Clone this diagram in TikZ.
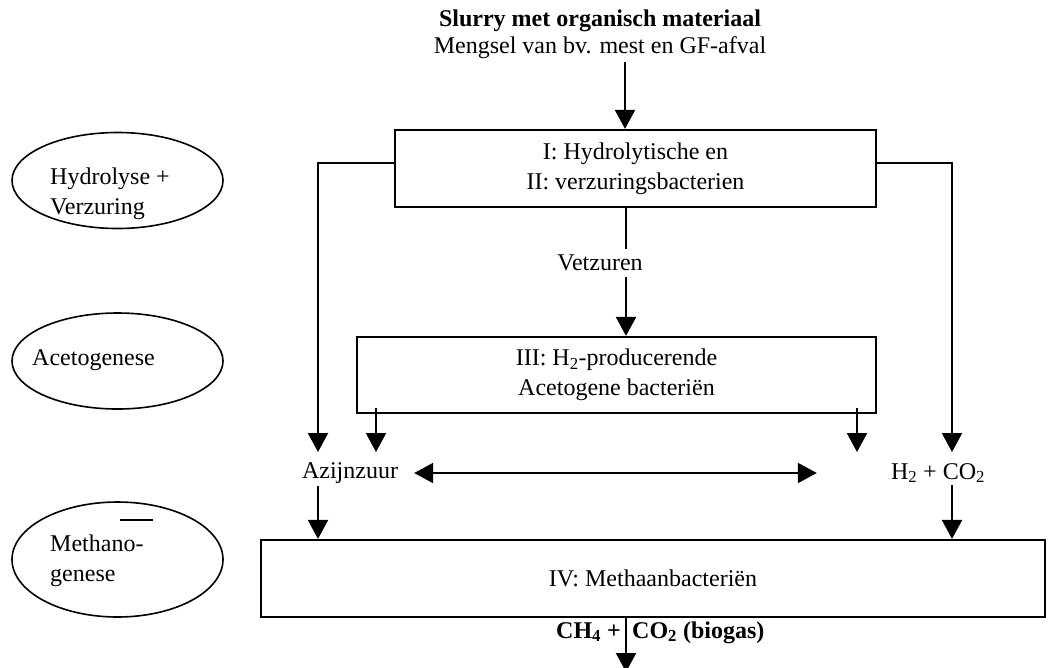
\documentclass[tikz,border=0pt]{standalone}
\usepackage{fontspec}
\setmainfont{Liberation Serif}
\usetikzlibrary{arrows.meta,shapes.geometric}
\begin{document}
\begin{tikzpicture}[x=1pt,y=-1pt,
  every node/.style={font=\fontsize{24}{30}\selectfont, inner sep=0pt},
  box/.style={draw, line width=2.2pt, align=center},
  phase/.style={draw, ellipse, line width=1.6pt, minimum width=211pt, minimum height=96pt},
  lbl/.style={align=left, anchor=west},
  link/.style={line width=2.2pt},
  arr/.style={line width=2.2pt, -{Triangle[length=19pt,width=20pt]}},
  darr/.style={line width=2.2pt, {Triangle[length=19pt,width=20pt]}-{Triangle[length=19pt,width=20pt]}}]
\useasboundingbox (0,0) rectangle (1057,667);
\clip (0,0) rectangle (1057,667);

% input
\node (title) at (600,21) {\bfseries Slurry met organisch materiaal};
\node (mix) at (600,48) {Mengsel van bv. mest en GF-afval};

% process boxes
\node[box, minimum width=481pt, minimum height=77pt] (b1) at (635.5,168.5) {I: Hydrolytische en\\II: verzuringsbacterien};
\node[box, minimum width=519pt, minimum height=76pt] (b3) at (616.5,375) {III: H\textsubscript{2}-producerende\\Acetogene bacteriën};
\node[box, minimum width=784pt, minimum height=77pt] (b4) at (653,578.5) {IV: Methaanbacteriën};

% intermediates
\node (vz) at (600,263) {Vetzuren};
\node (az) at (350,473) {Azijnzuur};
\node (hc) at (938,473) {H\textsubscript{2} + CO\textsubscript{2}};

% product, split around the outlet line
\node[anchor=base east] (gasL) at (621,638) {\bfseries CH\textsubscript{4} +};
\node[anchor=base west] (gasR) at (632,638) {\bfseries CO\textsubscript{2} (biogas)};

% phases
\node[phase] (e1) at (117.5,180.5) {};
\node[lbl, align=left] (t1) at (50,194) {\fontsize{24}{26}\selectfont Hydrolyse +\\Verzuring};
\node[phase] (e2) at (117.5,361) {};
\node[lbl] (t2) at (32,360) {Acetogenese};
\node[phase, minimum height=115pt] (e3) at (117.5,559.5) {};
\node[lbl, align=left] (t3) at (50,561) {Methano-\\genese};
\draw[line width=1.4pt] (120,520) -- (153,520);

% connector points
\coordinate (in) at (625,62);
\coordinate (mid) at (626,0);
\coordinate (lx) at (318,0);
\coordinate (rx) at (952,0);
\coordinate (tips) at (0,452);
\coordinate (out) at (626,672);

% flows
\draw[arr] (in) -- (in |- b1.north);
\draw[link] (b1.south -| mid) -- ([yshift=6pt]vz.north -| mid);
\draw[arr] ([yshift=-6pt]vz.south -| mid) -- (b3.north -| mid);
\draw[arr] ([yshift=5.5pt]b1.west) -| (lx |- tips);
\draw[arr] ([yshift=5.5pt]b1.east) -| (rx |- tips);
\draw[arr] ([yshift=6pt]b3.south -| 376,0) -- (376,452);
\draw[arr] ([yshift=6pt]b3.south -| 857,0) -- (857,452);
\draw[darr] ([xshift=16pt]az.east) -- ([xshift=-74pt]hc.west);
\draw[arr] ([yshift=-2pt]az.south -| lx) -- (b4.north -| lx);
\draw[arr] ([yshift=-2pt]hc.south -| rx) -- (b4.north -| rx);
\draw[arr] (b4.south -| mid) -- (out);
\end{tikzpicture}
\end{document}
